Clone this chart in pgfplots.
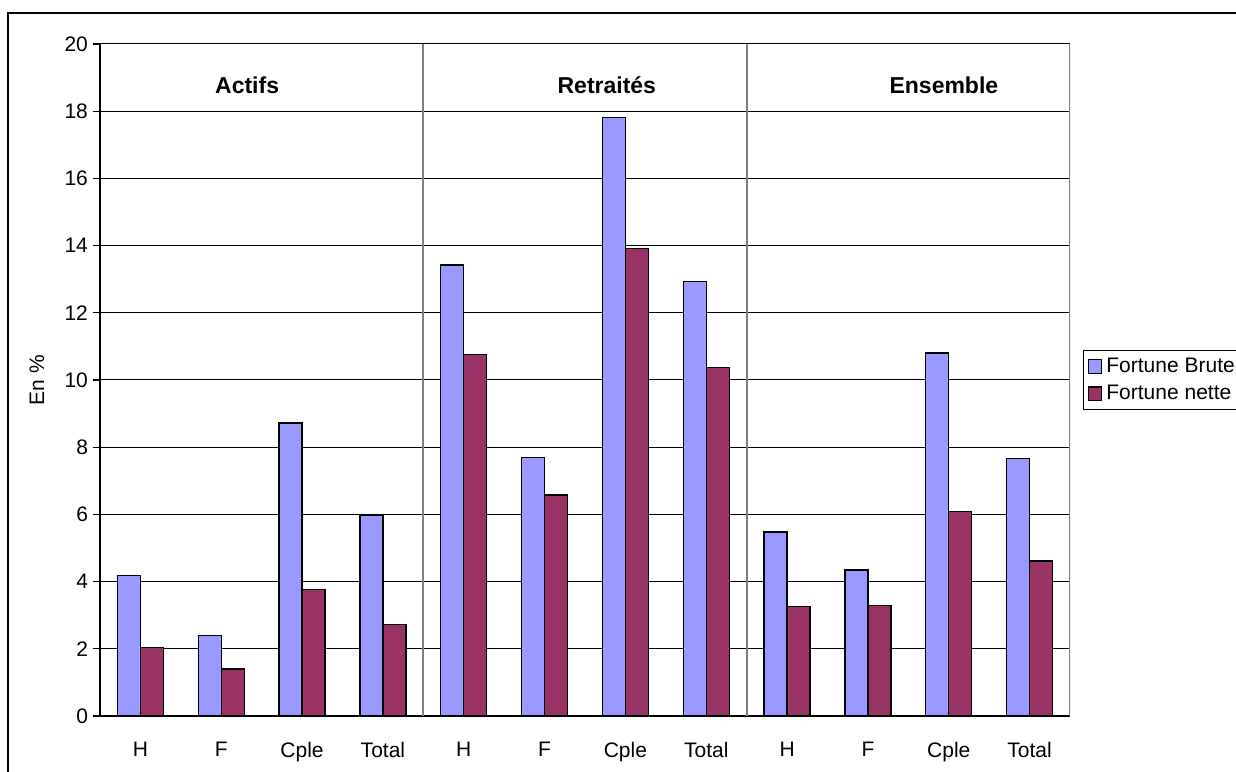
\documentclass[border=0pt]{standalone}
\usepackage{fontspec}
\setmainfont{Liberation Sans}
\usepackage{pgfplots}
\pgfplotsset{compat=1.18}

\definecolor{brute}{HTML}{9999FF}
\definecolor{nette}{HTML}{993366}
\definecolor{sep}{HTML}{808080}

\begin{document}
\begin{tikzpicture}
% 1 px of the reference = 0.5pt; axis origin at px (100,716)
\useasboundingbox (-50pt,-27.5pt) rectangle (568pt,358pt);
\draw[black,line width=0.7pt] (-46pt,-32pt) rectangle (572.5pt,351.5pt);
\begin{axis}[
    at={(0,0)}, anchor=south west,
    scale only axis,
    width=485pt, height=336pt,
    xmin=-0.5, xmax=11.5,
    ymin=0, ymax=20,
    ytick={0,2,...,20},
    xtick={0,...,11},
    xticklabels={H,F,Cple,Total,H,F,Cple,Total,H,F,Cple,Total},
    minor xtick={-0.5,0.5,...,11.5},
    axis x line*=bottom, axis y line*=left,
    axis line style={black,line width=0.9pt,-},
    tick align=outside,
    major tick length=3.5pt,
    minor tick length=4pt,
    xtick style={draw=none},
    minor tick style={draw=black,line width=0.6pt},
    ytick style={black,line width=0.6pt},
    ymajorgrids=true,
    grid style={black,line width=0.5pt},
    tick label style={font=\fontsize{10.5}{12}\selectfont},
    xticklabel style={yshift=-6pt},
    yticklabel style={xshift=1pt},
    /pgf/number format/assume math mode=true,
    ylabel={En \%},
    ylabel style={font=\fontsize{10.5}{12}\selectfont, at={(axis description cs:-0.065,0.5)}, anchor=center},
    ybar, bar width=11.5pt,
    legend style={at={(rel axis cs:1.0134,0.5446)}, anchor=north west,
        draw=black, line width=0.6pt, font=\fontsize{10.5}{12}\selectfont,
        inner xsep=2pt, inner ysep=1.5pt, row sep=1pt},
    legend cell align=left,
    legend image code/.code={\draw[#1,draw=black,line width=0.6pt] (0pt,-3.4pt) rectangle (6.8pt,3.4pt);},
]
\addplot[fill=brute, draw=black, line width=0.7pt, bar shift=-5.75pt] coordinates {
    (0,4.19) (1,2.40) (2,8.72) (3,5.97)
    (4,13.42) (5,7.69) (6,17.82) (7,12.94)
    (8,5.48) (9,4.34) (10,10.80) (11,7.66)
};
\addplot[fill=nette, draw=black, line width=0.7pt, bar shift=5.75pt] coordinates {
    (0,2.04) (1,1.40) (2,3.76) (3,2.72)
    (4,10.75) (5,6.58) (6,13.91) (7,10.38)
    (8,3.25) (9,3.29) (10,6.09) (11,4.61)
};
\legend{Fortune Brute, Fortune nette}
\draw[sep,line width=0.9pt] (axis cs:3.5,0) -- (axis cs:3.5,20);
\draw[sep,line width=0.9pt] (axis cs:7.5,0) -- (axis cs:7.5,20);
\draw[sep,line width=0.9pt] (axis cs:11.5,0) -- (axis cs:11.5,20);
\node[font=\bfseries\fontsize{11.5}{13}\selectfont] at (axis cs:1.32,18.78) {Actifs};
\node[font=\bfseries\fontsize{11.5}{13}\selectfont] at (axis cs:5.77,18.78) {Retraités};
\node[font=\bfseries\fontsize{11.5}{13}\selectfont] at (axis cs:9.94,18.78) {Ensemble};
\end{axis}
\end{tikzpicture}
\end{document}
